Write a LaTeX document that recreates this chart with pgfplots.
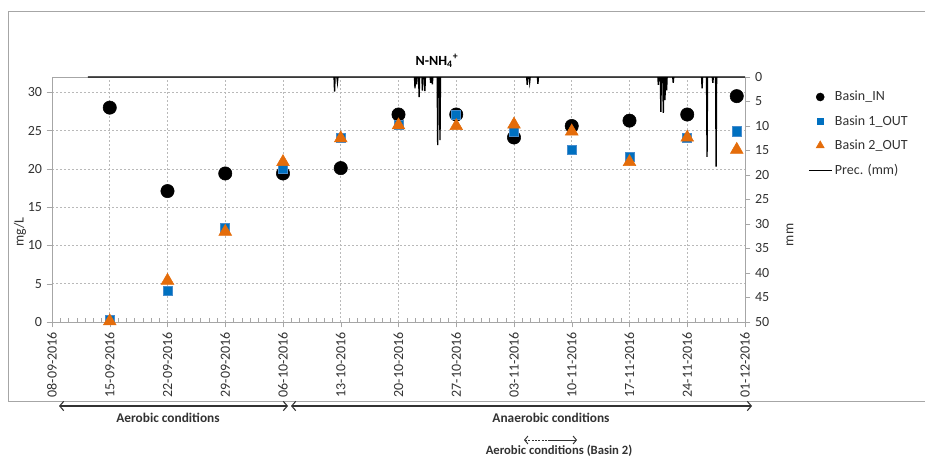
\documentclass[border=0pt]{standalone}
\usepackage{pgfplots}
\pgfplotsset{compat=1.18}
\usepackage{fontspec}
\setmainfont{Carlito}
\usetikzlibrary{arrows.meta}
\definecolor{bblue}{RGB}{0,112,192}
\definecolor{bblueedge}{RGB}{70,140,205}
\definecolor{borange}{RGB}{228,108,10}
\definecolor{axgray}{RGB}{166,166,166}
\definecolor{gridgray}{RGB}{185,185,185}
\definecolor{txtgray}{RGB}{50,50,50}
\begin{document}
\begin{tikzpicture}
\path[use as bounding box] (0,0) rectangle (693.75pt,342.75pt);
\begin{scope}[x=0.75pt,y=-0.75pt,yshift=342.75pt]
\draw[axgray, line width=0.75pt] (8,12) rectangle (960,402);
\end{scope}

\begin{axis}[
  at={(39pt,101.25pt)}, anchor=south west, scale only axis,
  width=519.75pt, height=183.75pt,
  xmin=0, xmax=84, ymin=0, ymax=32,
  xtick={0,7,...,84},
  xticklabels={08-09-2016,15-09-2016,22-09-2016,29-09-2016,06-10-2016,13-10-2016,20-10-2016,27-10-2016,03-11-2016,10-11-2016,17-11-2016,24-11-2016,01-12-2016},
  minor x tick num=6,
  ytick={0,5,...,30},
  tick pos=left,
  tick align=outside,
  major tick length=4pt,
  minor tick length=3pt,
  minor x tick style={yshift=3pt},
  tick style={axgray},
  axis line style={axgray},
  xmajorgrids, ymajorgrids,
  major grid style={gridgray, dash pattern=on 1.5pt off 1.5pt},
  xticklabel style={rotate=90, anchor=east, font=\fontsize{10.5}{12}\selectfont, text=txtgray},
  yticklabel style={font=\fontsize{10.5}{12}\selectfont, text=txtgray},
  /pgf/number format/assume math mode=true,
  clip=false,
]
\addplot[only marks, mark=*, mark size=5pt, black] coordinates {
(7,28.0) (14,17.1) (21,19.4) (28,19.4) (35,20.1) (42,27.1) (49,27.1) (56,24.1) (63,25.6) (70,26.3) (77,27.1) (83,29.5)};
\addplot[only marks, mark=square*, mark size=3.4pt, mark options={fill=bblue, draw=bblueedge, line width=0.5pt}] coordinates {
(7,0.3) (14,4.1) (21,12.3) (28,20.0) (35,24.0) (42,25.8) (49,27.1) (56,24.8) (63,22.5) (70,21.6) (77,24.1) (83,24.9)};
\addplot[only marks, mark=triangle*, mark size=5.5pt, mark options={fill=borange, draw=borange}] coordinates {
(7,0.1) (14,5.4) (21,11.8) (28,20.9) (35,24.0) (42,25.7) (49,25.6) (56,25.8) (63,24.9) (70,20.9) (77,24.1) (83,22.5)};
\end{axis}

\begin{axis}[
  at={(39pt,101.25pt)}, anchor=south west, scale only axis,
  width=519.75pt, height=183.75pt,
  xmin=0, xmax=84, ymin=0, ymax=50,
  y dir=reverse,
  axis x line=none,
  axis y line*=right,
  ytick={0,5,...,50},
  tick align=outside,
  major tick length=4pt,
  tick style={axgray},
  axis line style={axgray},
  yticklabel style={font=\fontsize{10.5}{12}\selectfont, text=txtgray},
  /pgf/number format/assume math mode=true,
  clip=false,
  legend style={at={(1.085,0.965)}, anchor=north west, draw=none, fill=none,
    font=\fontsize{10.5}{12}\selectfont, text=txtgray, row sep=5.5pt},
  legend cell align=left,
]
\addlegendimage{only marks, mark=*, mark size=3pt, black}
\addlegendentry{Basin\_IN}
\addlegendimage{only marks, mark=square*, mark size=2.5pt, mark options={fill=bblue, draw=bblue}}
\addlegendentry{Basin 1\_OUT}
\addlegendimage{only marks, mark=triangle*, mark size=3.5pt, mark options={fill=borange, draw=borange}}
\addlegendentry{Basin 2\_OUT}
\addplot[black, line width=1pt, sharp plot, mark=none] coordinates {
(4.36,0) (34.19,0)(34.25,3.0)(34.31,0)(34.54,0)(34.6,1.0)(34.66,0)
(43.94,0)(44.0,2.3)(44.06,0)(44.14,0)(44.2,1.5)(44.26,0)(44.44,0)(44.5,4.1)(44.56,0)(44.84,0)(44.9,2.8)(44.96,0)(45.14,0)(45.2,2.9)(45.26,0)(45.84,0)(45.9,1.2)(45.96,0)(46.04,0)(46.1,1.5)(46.16,0)(46.69,0)(46.75,13.9)(46.81,0)(46.97,0)(47.03,12.9)(47.09,0)
(57.54,0)(57.6,1.6)(57.66,0)(57.84,0)(57.9,1.0)(57.96,0)(58.84,0)(58.9,1.4)(58.96,0)
(73.44,0)(73.5,1.6)(73.56,0)(73.74,0)(73.8,7.1)(73.86,0)(74.04,0)(74.1,7.3)(74.16,0)(74.24,0)(74.3,4.7)(74.36,0)(74.44,0)(74.5,2.7)(74.56,0)(75.24,0)(75.3,1.2)(75.36,0)
(78.74,0)(78.8,2.3)(78.86,0)(79.34,0)(79.4,16.3)(79.46,0)(80.04,0)(80.1,1.2)(80.16,0)(80.44,0)(80.5,18.3)(80.56,0)(84,0)};
\addlegendentry{Prec. (mm)}
\end{axis}

\begin{scope}[x=0.75pt,y=-0.75pt,yshift=342.75pt]
\node[font=\bfseries\fontsize{10.5}{12}\selectfont] at (437,61) {N-NH\textsubscript{4}\textsuperscript{+}};
\node[rotate=90, font=\fontsize{10.5}{12}\selectfont, text=txtgray] at (20,232) {mg/L};
\node[rotate=90, font=\fontsize{10.5}{12}\selectfont, text=txtgray] at (790,235) {mm};
\draw[txtgray, line width=0.8pt, {Straight Barb[length=3pt,width=7pt]}-{Straight Barb[length=3pt,width=7pt]}] (59,406) -- (288,406);
\draw[txtgray, line width=0.8pt, {Straight Barb[length=3pt,width=7pt]}-{Straight Barb[length=3pt,width=7pt]}] (291,406) -- (752,406);
\node[font=\bfseries\fontsize{10}{12}\selectfont, text=txtgray] at (168,418) {Aerobic conditions};
\node[font=\bfseries\fontsize{10}{12}\selectfont, text=txtgray] at (551,418) {Anaerobic conditions};
\draw[txtgray, line width=0.7pt, dash pattern=on 1.5pt off 1pt, {Straight Barb[length=2.5pt,width=6pt]}-] (524,440) -- (550,440);
\draw[txtgray, line width=0.7pt, -{Straight Barb[length=2.5pt,width=6pt]}] (550,440) -- (577,440);
\node[font=\bfseries\fontsize{9.5}{11}\selectfont, text=txtgray, inner sep=0pt] at (559,451) {Aerobic conditions (Basin 2)};
\end{scope}
\end{tikzpicture}
\end{document}
